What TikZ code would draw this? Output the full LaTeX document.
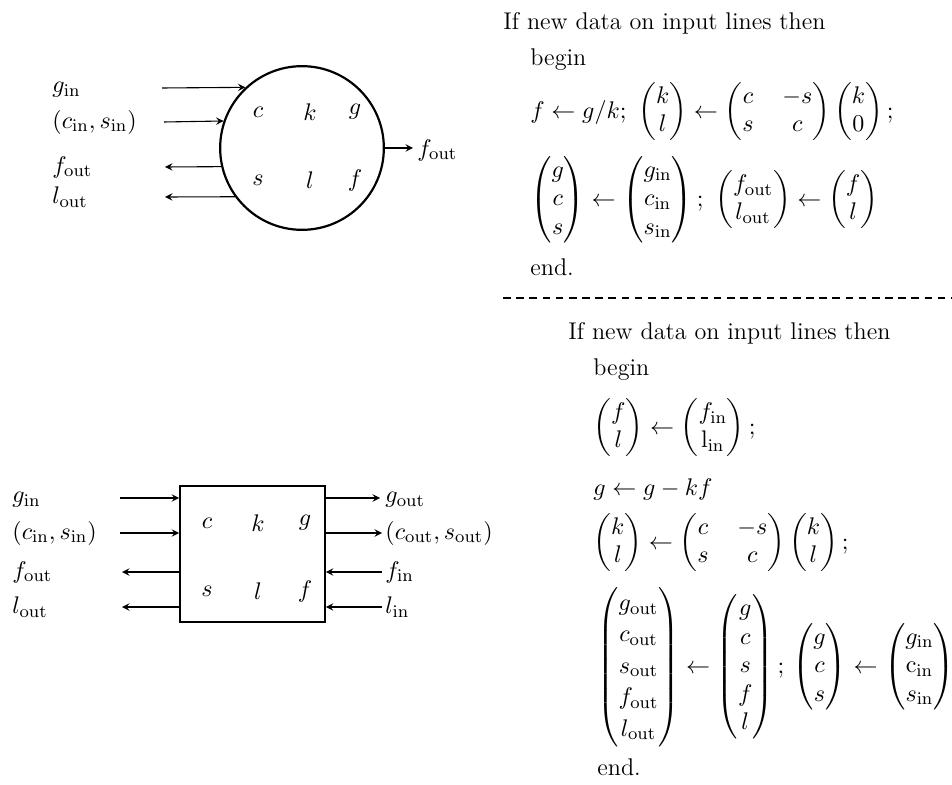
\documentclass[tikz,border=0pt]{standalone}
\usepackage{amsmath,amssymb}
\usepackage{tikz}
\newcommand{\sbin}{\mathrm{in}}
\newcommand{\sbout}{\mathrm{out}}

\begin{document}
\begin{tikzpicture}[x=0.016cm,y=-0.016cm,>=stealth,
  every node/.style={font=\fontsize{11}{13}\selectfont},
  txt/.style={anchor=west,inner sep=0pt},
  sig/.style={->,line width=0.5pt}]
\useasboundingbox (0,0) rectangle (952,785);

% circular cell
\node[draw,circle,line width=1pt,inner sep=0pt,minimum size=2.62cm] (cell) at (302,148) {};
\node (cc) at (258,112) {$c$};
\node (ck) at (310,112) {$k$};
\node (cg) at (355,112) {$g$};
\node (cs) at (258,180) {$s$};
\node (cl) at (310,180) {$l$};
\node (cf) at (355,180) {$f$};
\node[txt] (gin) at (52,90) {$g_{\sbin}$};
\node[txt] (csin) at (52,122) {$(c_{\sbin},s_{\sbin})$};
\node[txt] (fout) at (52,167) {$f_{\sbout}$};
\node[txt] (lout) at (52,197) {$l_{\sbout}$};
\coordinate (gin0) at (162,88);
\coordinate (csin0) at (164,122);
\coordinate (fout0) at (165,167);
\coordinate (lout0) at (165,197);
\draw[sig] (gin0) -- (cell.133);
\draw[sig] (csin0) -- (cell.161.5);
\draw[sig] (cell.193.4) -- (fout0);
\draw[sig] (cell.216.7) -- (lout0);
\coordinate (fout1) at (413,148);
\draw[sig] (cell.east) -- (fout1);
\node[txt] (foutr) at (417,150) {$f_{\sbout}$};

% square cell
\node[draw,line width=0.8pt,inner sep=0pt,minimum width=2.32cm,minimum height=2.18cm] (box) at (252.5,554) {};
\node (bc) at (207,523) {$c$};
\node (bk) at (258,523) {$k$};
\node (bg) at (305,523) {$g$};
\node (bs) at (207,591) {$s$};
\node (bl) at (258,591) {$l$};
\node (bf) at (305,591) {$f$};
\node[txt] (bgin) at (12,500) {$g_{\sbin}$};
\node[txt] (bcsin) at (12,533) {$(c_{\sbin},s_{\sbin})$};
\node[txt] (bfout) at (12,572) {$f_{\sbout}$};
\node[txt] (blout) at (12,607) {$l_{\sbout}$};
\coordinate (bgin0) at (120,498);
\coordinate (bcsin0) at (120,533);
\coordinate (bfout0) at (122,572);
\coordinate (blout0) at (122,607);
\draw[sig] (bgin0) -- (bgin0 -| box.west);
\draw[sig] (bcsin0) -- (bcsin0 -| box.west);
\draw[sig] (bfout0 -| box.west) -- (bfout0);
\draw[sig] (blout0 -| box.west) -- (blout0);
\coordinate (bgout1) at (380,498);
\coordinate (bcsout1) at (382,533);
\coordinate (bfin1) at (382,572);
\coordinate (blin1) at (382,607);
\draw[sig] (bgout1 -| box.east) -- (bgout1);
\draw[sig] (bcsout1 -| box.east) -- (bcsout1);
\draw[sig] (bfin1) -- (bfin1 -| box.east);
\draw[sig] (blin1) -- (blin1 -| box.east);
\node[txt] (bgout) at (385,500) {$g_{\sbout}$};
\node[txt] (bcsout) at (385,533) {$(c_{\sbout},s_{\sbout})$};
\node[txt] (bfin) at (385,572) {$f_{\sbin}$};
\node[txt] (blin) at (385,607) {$l_{\sbin}$};

% program of the circular cell
\node[txt] (ifA) at (503,23) {If new data on input lines then};
\node[txt] (beginA) at (530,60) {begin};
\node[txt] (eqA1) at (530,112) {$f\leftarrow g/k;\ \begin{pmatrix}k\\ l\end{pmatrix}\leftarrow\begin{pmatrix}c&\;-s\\ s&\;c\end{pmatrix}\begin{pmatrix}k\\ 0\end{pmatrix};$};
\node[txt] (eqA2) at (530,200) {$\begin{pmatrix}g\\ c\\ s\end{pmatrix}\leftarrow\begin{pmatrix}g_{\sbin}\\ c_{\sbin}\\ s_{\sbin}\end{pmatrix};\ \begin{pmatrix}f_{\sbout}\\ l_{\sbout}\end{pmatrix}\leftarrow\begin{pmatrix}f\\ l\end{pmatrix}$};
\node[txt] (endA) at (530,267) {end.};
\coordinate (dl) at (503,298);
\coordinate (dr) at (952,298);
\draw[dash pattern=on 3.5pt off 2.5pt,line width=0.6pt] (dl) -- (dr);

% program of the square cell
\node[txt] (ifB) at (568,333) {If new data on input lines then};
\node[txt] (beginB) at (593,370) {begin};
\node[txt] (eqB1) at (593,428) {$\begin{pmatrix}f\\ l\end{pmatrix}\leftarrow\begin{pmatrix}f_{\sbin}\\ \mathrm{l}_{\sbin}\end{pmatrix};$};
\node[txt] (eqB2) at (593,489) {$g\leftarrow g-kf$};
\node[txt] (eqB3) at (593,543) {$\begin{pmatrix}k\\ l\end{pmatrix}\leftarrow\begin{pmatrix}c&\;-s\\ s&\;c\end{pmatrix}\begin{pmatrix}k\\ l\end{pmatrix};$};
\node[txt] (eqB4) at (597,667) {$\renewcommand{\arraystretch}{1.1}\begin{pmatrix}g_{\sbout}\\ c_{\sbout}\\ s_{\sbout}\\ f_{\sbout}\\ l_{\sbout}\end{pmatrix}\renewcommand{\arraystretch}{1}\leftarrow\begin{pmatrix}g\\ c\\ s\\ f\\ l\end{pmatrix};\,\begin{pmatrix}g\\ c\\ s\end{pmatrix}\leftarrow\begin{pmatrix}g_{\sbin}\\ \mathrm{c}_{\sbin}\\ s_{\sbin}\end{pmatrix}$};
\node[txt] (endB) at (597,767) {end.};
\end{tikzpicture}
\end{document}
